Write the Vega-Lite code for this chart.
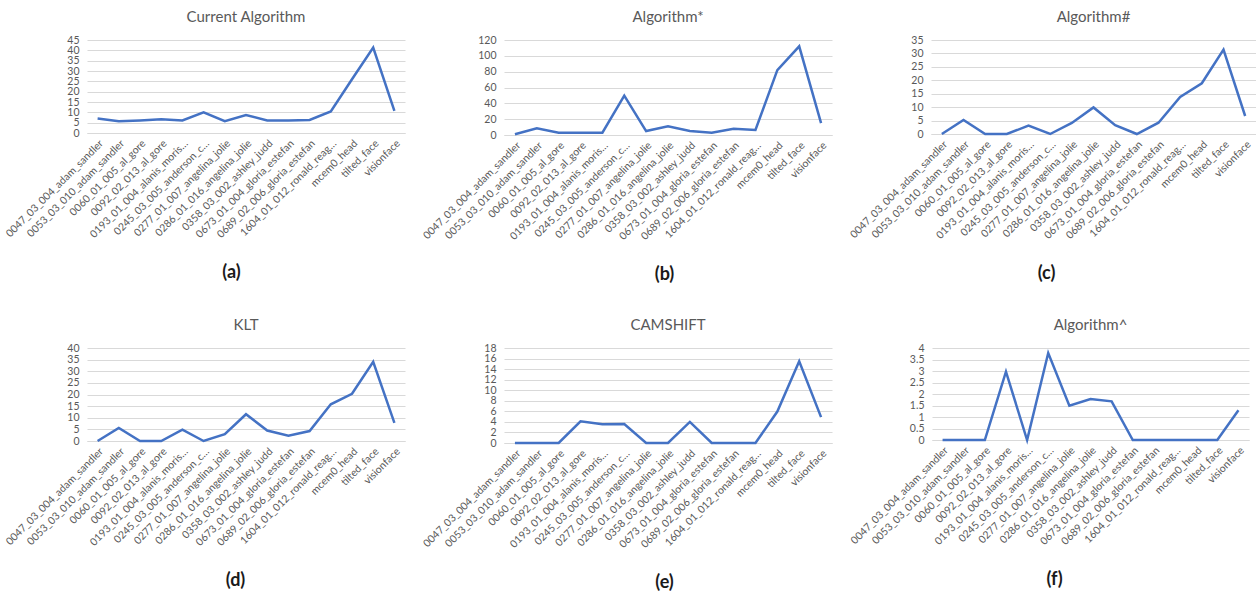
{
  "$schema": "https://vega.github.io/schema/vega-lite/v6.json",
  "padding": {"left": 3, "top": 10, "right": 0, "bottom": 0},
  "background": "white",
  "datasets": {
    "d": [
      {"panel": "a", "name": "0047_03_004_adam_sandler", "value": 7.0},
      {"panel": "a", "name": "0053_03_010_adam_sandler", "value": 5.7},
      {"panel": "a", "name": "0060_01_005_al_gore", "value": 6.1},
      {"panel": "a", "name": "0092_02_013_al_gore", "value": 6.6},
      {"panel": "a", "name": "0193_01_004_alanis_moris…", "value": 6.1},
      {"panel": "a", "name": "0245_03_005_anderson_c…", "value": 10.0},
      {"panel": "a", "name": "0277_01_007_angelina_jolie", "value": 5.7},
      {"panel": "a", "name": "0286_01_016_angelina_jolie", "value": 8.7},
      {"panel": "a", "name": "0358_03_002_ashley_judd", "value": 6.1},
      {"panel": "a", "name": "0673_01_004_gloria_estefan", "value": 6.1},
      {"panel": "a", "name": "0689_02_006_gloria_estefan", "value": 6.3},
      {"panel": "a", "name": "1604_01_012_ronald_reag…", "value": 10.4},
      {"panel": "a", "name": "mcem0_head", "value": 26.0},
      {"panel": "a", "name": "tilted_face", "value": 41.3},
      {"panel": "a", "name": "visionface", "value": 10.7},

      {"panel": "b", "name": "0047_03_004_adam_sandler", "value": 1.0},
      {"panel": "b", "name": "0053_03_010_adam_sandler", "value": 8.4},
      {"panel": "b", "name": "0060_01_005_al_gore", "value": 3.0},
      {"panel": "b", "name": "0092_02_013_al_gore", "value": 3.0},
      {"panel": "b", "name": "0193_01_004_alanis_moris…", "value": 3.0},
      {"panel": "b", "name": "0245_03_005_anderson_c…", "value": 49.7},
      {"panel": "b", "name": "0277_01_007_angelina_jolie", "value": 5.0},
      {"panel": "b", "name": "0286_01_016_angelina_jolie", "value": 11.0},
      {"panel": "b", "name": "0358_03_002_ashley_judd", "value": 5.0},
      {"panel": "b", "name": "0673_01_004_gloria_estefan", "value": 3.0},
      {"panel": "b", "name": "0689_02_006_gloria_estefan", "value": 8.0},
      {"panel": "b", "name": "1604_01_012_ronald_reag…", "value": 6.3},
      {"panel": "b", "name": "mcem0_head", "value": 82.0},
      {"panel": "b", "name": "tilted_face", "value": 112.0},
      {"panel": "b", "name": "visionface", "value": 15.0},

      {"panel": "c", "name": "0047_03_004_adam_sandler", "value": 0},
      {"panel": "c", "name": "0053_03_010_adam_sandler", "value": 5.2},
      {"panel": "c", "name": "0060_01_005_al_gore", "value": 0},
      {"panel": "c", "name": "0092_02_013_al_gore", "value": 0},
      {"panel": "c", "name": "0193_01_004_alanis_moris…", "value": 3.1},
      {"panel": "c", "name": "0245_03_005_anderson_c…", "value": 0},
      {"panel": "c", "name": "0277_01_007_angelina_jolie", "value": 4.1},
      {"panel": "c", "name": "0286_01_016_angelina_jolie", "value": 9.9},
      {"panel": "c", "name": "0358_03_002_ashley_judd", "value": 3.3},
      {"panel": "c", "name": "0673_01_004_gloria_estefan", "value": 0},
      {"panel": "c", "name": "0689_02_006_gloria_estefan", "value": 4.2},
      {"panel": "c", "name": "1604_01_012_ronald_reag…", "value": 13.8},
      {"panel": "c", "name": "mcem0_head", "value": 18.9},
      {"panel": "c", "name": "tilted_face", "value": 31.4},
      {"panel": "c", "name": "visionface", "value": 6.7},

      {"panel": "d", "name": "0047_03_004_adam_sandler", "value": 0},
      {"panel": "d", "name": "0053_03_010_adam_sandler", "value": 5.6},
      {"panel": "d", "name": "0060_01_005_al_gore", "value": 0},
      {"panel": "d", "name": "0092_02_013_al_gore", "value": 0},
      {"panel": "d", "name": "0193_01_004_alanis_moris…", "value": 4.9},
      {"panel": "d", "name": "0245_03_005_anderson_c…", "value": 0},
      {"panel": "d", "name": "0277_01_007_angelina_jolie", "value": 2.9},
      {"panel": "d", "name": "0286_01_016_angelina_jolie", "value": 11.5},
      {"panel": "d", "name": "0358_03_002_ashley_judd", "value": 4.5},
      {"panel": "d", "name": "0673_01_004_gloria_estefan", "value": 2.3},
      {"panel": "d", "name": "0689_02_006_gloria_estefan", "value": 4.3},
      {"panel": "d", "name": "1604_01_012_ronald_reag…", "value": 15.8},
      {"panel": "d", "name": "mcem0_head", "value": 20.3},
      {"panel": "d", "name": "tilted_face", "value": 34.1},
      {"panel": "d", "name": "visionface", "value": 7.8},

      {"panel": "e", "name": "0047_03_004_adam_sandler", "value": 0},
      {"panel": "e", "name": "0053_03_010_adam_sandler", "value": 0},
      {"panel": "e", "name": "0060_01_005_al_gore", "value": 0},
      {"panel": "e", "name": "0092_02_013_al_gore", "value": 4.1},
      {"panel": "e", "name": "0193_01_004_alanis_moris…", "value": 3.55},
      {"panel": "e", "name": "0245_03_005_anderson_c…", "value": 3.6},
      {"panel": "e", "name": "0277_01_007_angelina_jolie", "value": 0},
      {"panel": "e", "name": "0286_01_016_angelina_jolie", "value": 0},
      {"panel": "e", "name": "0358_03_002_ashley_judd", "value": 4.0},
      {"panel": "e", "name": "0673_01_004_gloria_estefan", "value": 0},
      {"panel": "e", "name": "0689_02_006_gloria_estefan", "value": 0},
      {"panel": "e", "name": "1604_01_012_ronald_reag…", "value": 0},
      {"panel": "e", "name": "mcem0_head", "value": 5.96},
      {"panel": "e", "name": "tilted_face", "value": 15.5},
      {"panel": "e", "name": "visionface", "value": 4.9},

      {"panel": "f", "name": "0047_03_004_adam_sandler", "value": 0},
      {"panel": "f", "name": "0053_03_010_adam_sandler", "value": 0},
      {"panel": "f", "name": "0060_01_005_al_gore", "value": 0},
      {"panel": "f", "name": "0092_02_013_al_gore", "value": 2.97},
      {"panel": "f", "name": "0193_01_004_alanis_moris…", "value": 0},
      {"panel": "f", "name": "0245_03_005_anderson_c…", "value": 3.78},
      {"panel": "f", "name": "0277_01_007_angelina_jolie", "value": 1.49},
      {"panel": "f", "name": "0286_01_016_angelina_jolie", "value": 1.78},
      {"panel": "f", "name": "0358_03_002_ashley_judd", "value": 1.68},
      {"panel": "f", "name": "0673_01_004_gloria_estefan", "value": 0},
      {"panel": "f", "name": "0689_02_006_gloria_estefan", "value": 0},
      {"panel": "f", "name": "1604_01_012_ronald_reag…", "value": 0},
      {"panel": "f", "name": "mcem0_head", "value": 0},
      {"panel": "f", "name": "tilted_face", "value": 0},
      {"panel": "f", "name": "visionface", "value": 1.29}
    ]
  },
  "data": {"name": "d"},
  "spacing": 34,
  "vconcat": [
    {
      "spacing": 16,
      "hconcat": [
        {
          "width": 318, "height": 93,
          "title": "Current Algorithm",
          "transform": [{"filter": "datum.panel === 'a'"}],
          "mark": {"type": "line", "color": "#4472C4", "strokeWidth": 2.5},
          "encoding": {
            "x": {"field": "name", "type": "nominal", "sort": null, "axis": {"title": "(a)", "titleX": 144}},
            "y": {"field": "value", "type": "quantitative", "scale": {"domain": [0, 45], "nice": false}, "axis": {"title": null, "values": [0, 5, 10, 15, 20, 25, 30, 35, 40, 45]}}
          }
        },
        {
          "width": 328, "height": 95,
          "title": "Algorithm*",
          "transform": [{"filter": "datum.panel === 'b'"}],
          "mark": {"type": "line", "color": "#4472C4", "strokeWidth": 2.5},
          "encoding": {
            "x": {"field": "name", "type": "nominal", "sort": null, "axis": {"title": "(b)", "titleX": 160}},
            "y": {"field": "value", "type": "quantitative", "scale": {"domain": [0, 120], "nice": false}, "axis": {"title": null, "values": [0, 20, 40, 60, 80, 100, 120]}}
          }
        },
        {
          "width": 325, "height": 94,
          "title": "Algorithm#",
          "transform": [{"filter": "datum.panel === 'c'"}],
          "mark": {"type": "line", "color": "#4472C4", "strokeWidth": 2.5},
          "encoding": {
            "x": {"field": "name", "type": "nominal", "sort": null, "axis": {"title": "(c)", "titleX": 115}},
            "y": {"field": "value", "type": "quantitative", "scale": {"domain": [0, 35], "nice": false}, "axis": {"title": null, "values": [0, 5, 10, 15, 20, 25, 30, 35]}}
          }
        }
      ]
    },
    {
      "spacing": 16,
      "hconcat": [
        {
          "width": 318, "height": 93,
          "title": "KLT",
          "transform": [{"filter": "datum.panel === 'd'"}],
          "mark": {"type": "line", "color": "#4472C4", "strokeWidth": 2.5},
          "encoding": {
            "x": {"field": "name", "type": "nominal", "sort": null, "axis": {"title": "(d)", "titleX": 148}},
            "y": {"field": "value", "type": "quantitative", "scale": {"domain": [0, 40], "nice": false}, "axis": {"title": null, "values": [0, 5, 10, 15, 20, 25, 30, 35, 40]}}
          }
        },
        {
          "width": 328, "height": 95,
          "title": "CAMSHIFT",
          "transform": [{"filter": "datum.panel === 'e'"}],
          "mark": {"type": "line", "color": "#4472C4", "strokeWidth": 2.5},
          "encoding": {
            "x": {"field": "name", "type": "nominal", "sort": null, "axis": {"title": "(e)", "titleX": 160}},
            "y": {"field": "value", "type": "quantitative", "scale": {"domain": [0, 18], "nice": false}, "axis": {"title": null, "values": [0, 2, 4, 6, 8, 10, 12, 14, 16, 18]}}
          }
        },
        {
          "width": 317, "height": 92,
          "title": "Algorithm^",
          "transform": [{"filter": "datum.panel === 'f'"}],
          "mark": {"type": "line", "color": "#4472C4", "strokeWidth": 2.5},
          "encoding": {
            "x": {"field": "name", "type": "nominal", "sort": null, "axis": {"title": "(f)", "titleX": 122}},
            "y": {"field": "value", "type": "quantitative", "scale": {"domain": [0, 4], "nice": false}, "axis": {"title": null, "format": "~g", "values": [0, 0.5, 1, 1.5, 2, 2.5, 3, 3.5, 4]}}
          }
        }
      ]
    }
  ],
  "config": {
    "font": "Lato",
    "view": {"stroke": null},
    "axis": {
      "labelColor": "#595959",
      "labelFont": "Lato",
      "labelFontSize": 10.5,
      "gridColor": "#d9d9d9",
      "domainColor": "#d9d9d9",
      "ticks": false,
      "labelOverlap": false
    },
    "axisX": {
      "labelAngle": -45,
      "grid": false,
      "labelPadding": 5,
      "titleFont": "Lato",
      "titleFontSize": 18,
      "titleFontWeight": "bold",
      "titleColor": "#1a1a1a",
      "titlePadding": 24
    },
    "axisY": {"domain": false, "grid": true, "labelPadding": 8},
    "title": {"font": "Lato", "fontSize": 15, "fontWeight": "normal", "color": "#595959", "offset": 10, "anchor": "middle"}
  }
}
